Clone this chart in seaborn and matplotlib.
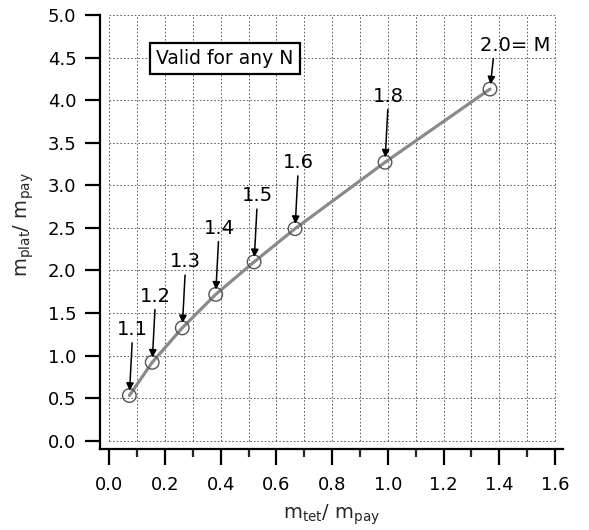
import numpy as np
import matplotlib.pyplot as plt
import seaborn as sns

# values
tether_ratio = [0.072, 0.154, 0.262, 0.382, 0.520, 0.667, 0.990, 1.367]
platform_ratio = [0.53, 0.92, 1.325, 1.718, 2.10, 2.49, 3.27, 4.13]
m_labels = ["1.1", "1.2", "1.3", "1.4", "1.5", "1.6", "1.8", "2.0= M"]

x_ticks = [0.0, 0.2, 0.4, 0.6, 0.8, 1.0, 1.2, 1.4, 1.6]
y_ticks = [0.0, 0.5, 1.0, 1.5, 2.0, 2.5, 3.0, 3.5, 4.0, 4.5, 5.0]

# label layout (offset points from each marker): arrow start, text centre
ARROW_OFF = [(2, 38)] * 7 + [(2.4, 22)]
TEXT_OFF = [(2.5, 47.5)] * 7 + [(18, 31.7)]

sns.set_style("ticks")
plt.rcParams["font.family"] = ["DejaVu Sans"]
plt.rcParams["mathtext.fontset"] = "dejavusans"

fig = plt.figure(figsize=(5.89, 5.30), dpi=100)
fig.patch.set_facecolor("white")
ax = fig.add_axes([100 / 589, 1 - 449.3 / 530, 463 / 589, (449.3 - 15) / 530])
ax.set_facecolor("white")

# dotted grid confined to the data frame
ax.vlines(np.arange(0, 1.601, 0.1), 0, 5, colors="#555555",
          linestyles=(0, (1.8, 2.2)), linewidth=0.65, zorder=1)
ax.hlines(y_ticks, 0, 1.6, colors="#555555",
          linestyles=(0, (1.8, 2.2)), linewidth=0.65, zorder=1)

sns.lineplot(x=tether_ratio, y=platform_ratio, ax=ax, color="#8a8a8a",
             linewidth=2.3, zorder=3)
sns.scatterplot(x=tether_ratio, y=platform_ratio, ax=ax, s=95,
                facecolor="none", edgecolor="#555555", linewidth=1.0,
                zorder=4)

for xi, yi, lab, aoff, toff in zip(tether_ratio, platform_ratio, m_labels,
                                    ARROW_OFF, TEXT_OFF):
    ax.annotate("", xy=(xi, yi), xytext=aoff, textcoords="offset points",
                arrowprops=dict(arrowstyle="-|>", color="black", lw=1.1,
                                mutation_scale=11, shrinkA=0, shrinkB=3.5),
                zorder=5)
    ax.annotate(lab, xy=(xi, yi), xytext=toff, textcoords="offset points",
                ha="center", va="center", fontsize=14, color="black",
                zorder=5)

ax.text(0.415, 4.49, "Valid for any N", ha="center", va="center",
        fontsize=13.5, color="black", zorder=6,
        bbox=dict(boxstyle="square,pad=0.34", facecolor="white",
                  edgecolor="black", linewidth=1.6))

ax.set_xlim(-9.3 / 278.5, (563 - 109.3) / 278.5)
ax.set_ylim(-8.6 / 84.8, 5.0)
ax.set_xticks(x_ticks)
ax.set_xticks(np.arange(0.1, 1.6, 0.2), minor=True)
ax.set_yticks(y_ticks)
ax.set_xticklabels([f"{v:.1f}" for v in x_ticks])
ax.set_yticklabels([f"{v:.1f}" for v in y_ticks])

ax.spines["top"].set_visible(False)
ax.spines["right"].set_visible(False)
for side in ["left", "bottom"]:
    ax.spines[side].set_linewidth(1.6)
    ax.spines[side].set_color("black")
ax.tick_params(axis="x", which="major", direction="out", length=11.5,
               width=1.6, labelsize=13, pad=8, colors="black")
ax.tick_params(axis="x", which="minor", direction="out", length=6,
               width=1.6)
ax.tick_params(axis="y", which="major", direction="out", length=11,
               width=1.6, labelsize=13, pad=6, colors="black")

ax.set_xlabel(r"$\mathregular{m_{tet}/\ m_{pay}}$", fontsize=14, labelpad=6)
ax.set_ylabel(r"$\mathregular{m_{plat}/\ m_{pay}}$", fontsize=14)
ax.yaxis.set_label_coords(-64 / 463, (449.3 - 225) / (449.3 - 15))

fig.savefig("out.png", dpi=100, facecolor="white")
